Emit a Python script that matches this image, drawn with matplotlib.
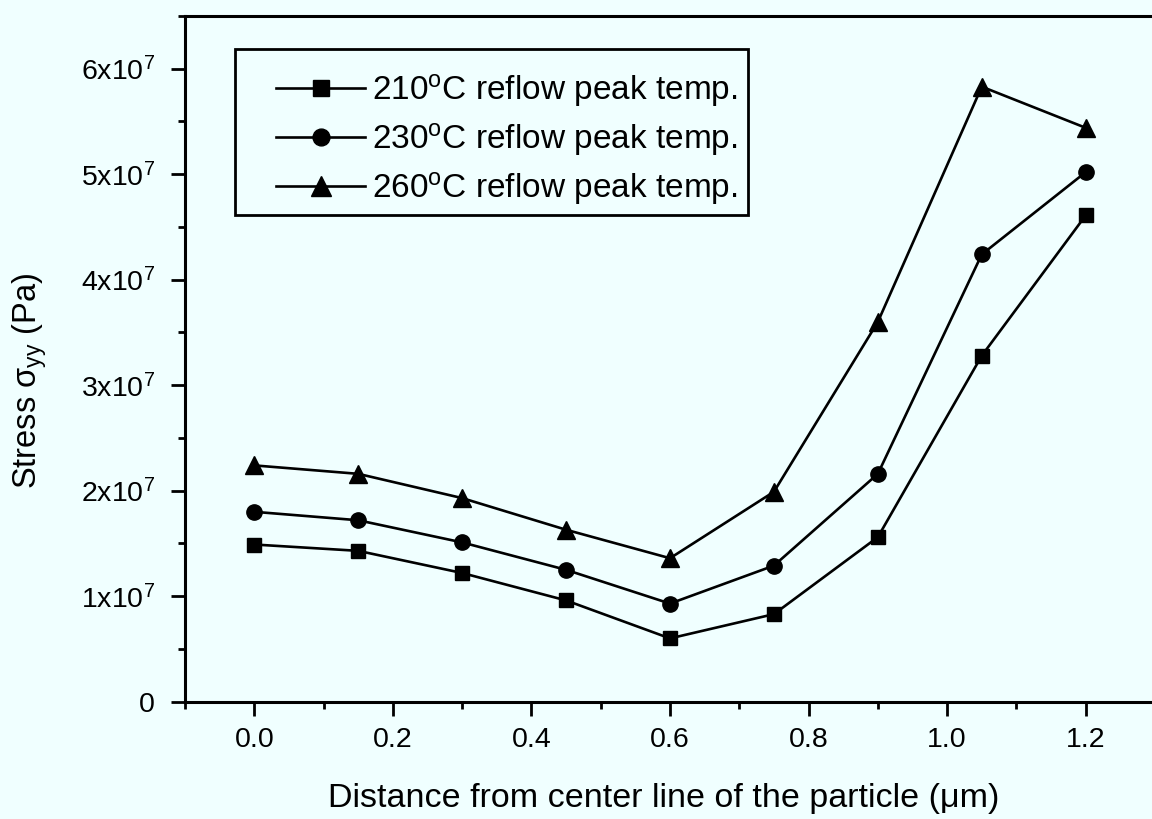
import numpy as np
from matplotlib import pyplot as plt
from matplotlib import ticker
from matplotlib.patches import Rectangle

plt.rcParams['font.family'] = ['Liberation Sans', 'DejaVu Sans']
plt.rcParams['mathtext.default'] = 'regular'

# Data
distance = [0.0, 0.15, 0.30, 0.45, 0.60, 0.75, 0.90, 1.05, 1.20]
stress_210 = [1.49e7, 1.43e7, 1.22e7, 0.96e7, 0.60e7, 0.83e7, 1.56e7, 3.28e7, 4.61e7]
stress_230 = [1.80e7, 1.72e7, 1.51e7, 1.25e7, 0.93e7, 1.29e7, 2.16e7, 4.24e7, 5.02e7]
stress_260 = [2.24e7, 2.16e7, 1.93e7, 1.63e7, 1.36e7, 1.99e7, 3.60e7, 5.83e7, 5.44e7]
series_labels = ['210$^{o}$C reflow peak temp.',
                 '230$^{o}$C reflow peak temp.',
                 '260$^{o}$C reflow peak temp.']

bg = '#f0ffff'

fig = plt.figure(figsize=(11.52, 8.19), dpi=100, facecolor=bg)
W, H = 1152.0, 819.0
ax = fig.add_axes([185 / W, 117.3 / H, 970 / W, 685.7 / H])
ax.set_facecolor(bg)

ax.plot(distance, stress_210, '-s', color='black', lw=1.9, markersize=10.5, label=series_labels[0])
ax.plot(distance, stress_230, '-o', color='black', lw=1.9, markersize=11, label=series_labels[1])
ax.plot(distance, stress_260, '-^', color='black', lw=1.9, markersize=12.5, label=series_labels[2])

ax.set_xlim(-0.1, 1.3)
ax.set_ylim(0, 6.5e7)

ax.xaxis.set_major_locator(ticker.MultipleLocator(0.2))
ax.xaxis.set_minor_locator(ticker.MultipleLocator(0.1))
ax.yaxis.set_major_locator(ticker.MultipleLocator(1e7))
ax.yaxis.set_minor_locator(ticker.MultipleLocator(5e6))

def yfmt(v, pos):
    n = int(round(v / 1e7))
    if n == 0:
        return '0'
    return '%dx10$^{7}$' % n

ax.yaxis.set_major_formatter(ticker.FuncFormatter(yfmt))
ax.xaxis.set_major_formatter(ticker.FormatStrFormatter('%.1f'))

ax.tick_params(which='major', direction='out', length=10, width=2, labelsize=20.5)
ax.tick_params(axis='x', which='major', pad=8)
ax.tick_params(axis='y', which='major', pad=11.5)
ax.tick_params(which='minor', direction='out', length=5, width=2)
for s in ax.spines.values():
    s.set_linewidth(2.2)

ax.set_xlabel('Distance from center line of the particle (μm)', fontsize=24.5)
ax.set_ylabel('Stress σ$_{yy}$ (Pa)', fontsize=23.5)
ax.xaxis.set_label_coords(0.493, -0.1186)
ax.yaxis.set_label_coords(-0.140, 0.468)

# legend frame drawn separately so the rows can sit where they do in the original
fig.patches.append(Rectangle((235 / W, 1 - 215 / H), 513 / W, 166 / H,
                             transform=fig.transFigure, fill=False,
                             edgecolor='black', linewidth=2))
leg = ax.legend(loc='upper left', bbox_to_anchor=(276 / W, 1 - 72 / H),
                bbox_transform=fig.transFigure, fontsize=24, frameon=False,
                handlelength=2.67, handletextpad=0.2, labelspacing=0.36,
                borderpad=0, borderaxespad=0, markerscale=1.1)

fig.savefig('out.png', dpi=100, facecolor=bg)
